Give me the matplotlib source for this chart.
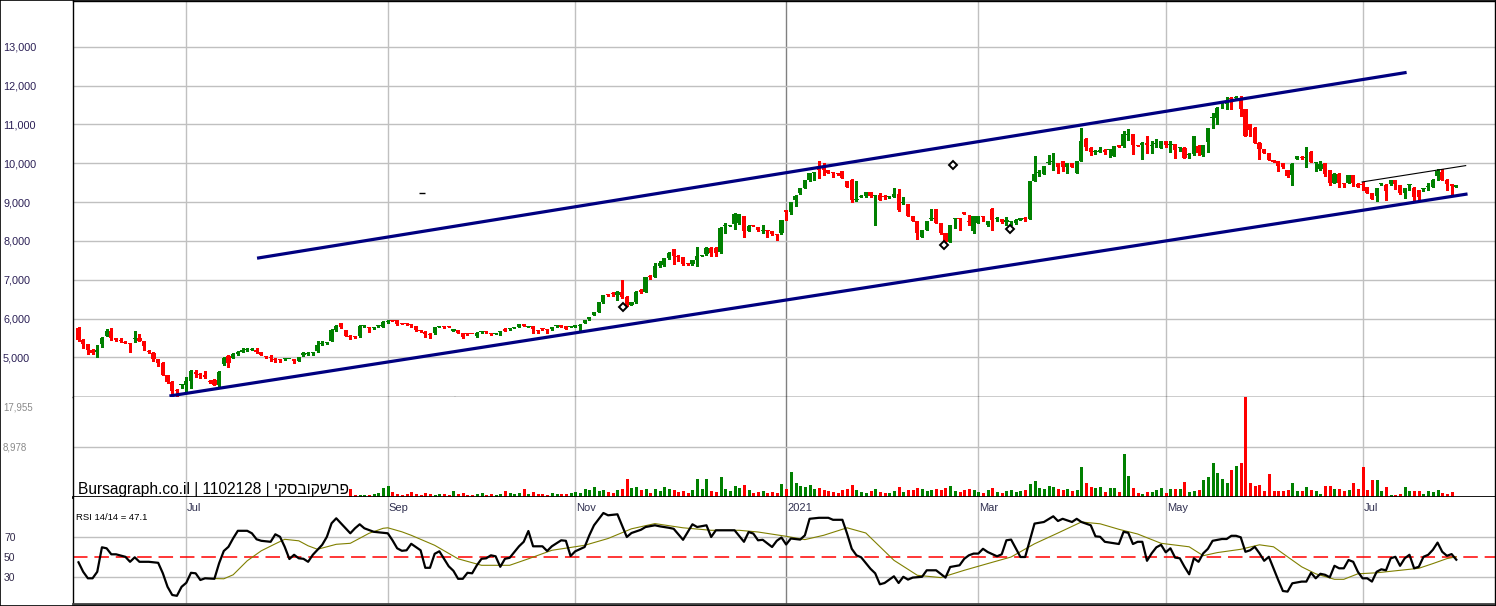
import numpy as np
import matplotlib
matplotlib.use("Agg")
import matplotlib.pyplot as plt
from matplotlib.transforms import blended_transform_factory

plt.rcParams['font.family'] = ['Liberation Sans', 'DejaVu Sans']

# daily candles, index 0 = first bar on the left (June 2020)
opens = [
    5750, 5450, 5340, 5200, 5130, 5340, 5550, 5690, 5490, 5450,
    5400, 5370, 5460, 5500, 5420, 5160, 5110, 4950, 4860, 4545,
    4370, 4140, 4290, 4300, 4390, 4630, 4580, 4545, 4390, 4415,
    4290, 4840, 5040, 4990, 5080, 5150, 5180, 5190, 5200, 5140,
    5020, 5000, 4960, 4945, 4950, 4955, 4950, 4910, 5050, 5090,
    5120, 5160, 5350, 5360, 5430, 5700, 5880, 5700, 5560, 5540,
    5550, 5795, 5770, 5755, 5795, 5790, 5905, 5955, 5960, 5865,
    5855, 5850, 5800, 5700, 5660, 5610, 5620, 5785, 5795, 5790,
    5690, 5700, 5620, 5605, 5605, 5560, 5655, 5655, 5630, 5595,
    5655, 5740, 5720, 5765, 5790, 5855, 5780, 5800, 5685, 5730,
    5705, 5720, 5795, 5830, 5800, 5775, 5790, 5795, 5890, 5980,
    6100, 6170, 6420, 6610, 6650, 6600, 6690, 6560, 6345, 6420,
    6740, 6690, 7080, 7073, 7350, 7374, 7547, 7785, 7600, 7572,
    7405, 7400, 7520, 7615, 7650, 7820, 7820, 7716, 8370, 8395,
    8440, 8460, 8634, 8260, 8395, 8345, 8265, 8275, 8250, 8155,
    8190, 8790, 8745, 9045, 9220, 9360, 9560, 9745, 9900, 9900,
    9820, 9755, 9735, 9790, 9540, 9580, 9040, 9140, 9150, 9260,
    9145, 9190, 9135, 9125, 9130, 9200, 8985, 8940, 8640, 8510,
    8100, 8275, 8565, 8815, 8460, 8190, 7975, 8565, 8575, 8745,
    8495, 8255, 8460, 8615, 8400, 8830, 8555, 8560, 8475, 8475,
    8450, 8540, 8575, 8575, 9535, 9745, 9715, 10010, 10025, 10005,
    10050, 9910, 10005, 9750, 10055, 10615, 10400, 10295, 10300, 10350,
    10335, 10190, 10440, 10435, 10735, 10740, 10465, 10460, 10530, 10455,
    10495, 10390, 10560, 10480, 10486, 10395, 10400, 10215, 10230, 10440,
    10200, 10545, 11155, 11170, 11525, 11525, 11665, 11675, 11640, 11390,
    11000, 10915, 10530, 10360, 10265, 10075, 10050, 10005, 9820, 9690,
    10120, 10155, 10145, 10300, 10010, 9840, 10005, 9820, 9490, 9730,
    9462, 9500, 9690, 9470, 9455, 9390, 9220, 9150, 9455, 9450,
    9460, 9560, 9430, 9220, 9445, 9370, 9300, 9345, 9385, 9390,
    9660, 9770, 9580, 9460, 9390,
]
highs = [
    5780, 5460, 5350, 5210, 5310, 5520, 5720, 5760, 5500, 5510,
    5410, 5380, 5680, 5600, 5430, 5200, 5130, 4960, 4870, 4550,
    4380, 4190, 4300, 4500, 4680, 4680, 4600, 4660, 4420, 4430,
    4640, 5020, 5060, 5100, 5160, 5230, 5230, 5230, 5230, 5150,
    5030, 5050, 4980, 4950, 4970, 4970, 4960, 5020, 5130, 5150,
    5150, 5410, 5420, 5400, 5720, 5830, 5890, 5710, 5570, 5550,
    5830, 5820, 5790, 5780, 5820, 5930, 5960, 5960, 5965, 5880,
    5860, 5855, 5810, 5705, 5670, 5620, 5790, 5800, 5800, 5800,
    5730, 5710, 5630, 5620, 5610, 5650, 5680, 5670, 5640, 5620,
    5680, 5750, 5750, 5790, 5870, 5860, 5800, 5810, 5690, 5740,
    5710, 5780, 5810, 5840, 5810, 5800, 5840, 5850, 5970, 6050,
    6180, 6430, 6610, 6620, 6680, 6720, 7000, 6570, 6430, 6700,
    6770, 7080, 7120, 7430, 7470, 7560, 7710, 7800, 7640, 7580,
    7420, 7510, 7840, 7640, 7830, 7830, 7830, 8350, 8470, 8420,
    8720, 8700, 8650, 8400, 8400, 8350, 8420, 8280, 8260, 8160,
    8540, 8800, 9000, 9170, 9370, 9570, 9760, 9770, 10050, 10000,
    9830, 9760, 9740, 9800, 9550, 9590, 9540, 9180, 9270, 9270,
    9160, 9220, 9180, 9150, 9350, 9340, 9130, 8950, 8650, 8520,
    8290, 8520, 8830, 8830, 8470, 8200, 8410, 8575, 8580, 8750,
    8660, 8640, 8640, 8620, 8520, 8840, 8620, 8570, 8620, 8490,
    8560, 8600, 8610, 9540, 10190, 9830, 9930, 10200, 10250, 10010,
    10060, 10010, 10010, 10060, 10900, 10640, 10410, 10340, 10420, 10360,
    10350, 10440, 10450, 10830, 10870, 10750, 10480, 10540, 10690, 10560,
    10630, 10570, 10570, 10580, 10490, 10410, 10410, 10270, 10690, 10480,
    10480, 10910, 11280, 11440, 11600, 11710, 11710, 11720, 11720, 11400,
    11010, 10920, 10540, 10370, 10270, 10080, 10060, 10010, 9830, 9995,
    10190, 10190, 10430, 10310, 10025, 10050, 10010, 9830, 9740, 9740,
    9470, 9700, 9700, 9480, 9520, 9400, 9230, 9360, 9480, 9460,
    9570, 9570, 9440, 9360, 9460, 9380, 9310, 9360, 9480, 9590,
    9860, 9860, 9590, 9470, 9440,
]
lows = [
    5420, 5250, 5080, 5080, 5010, 5270, 5540, 5440, 5420, 5390,
    5370, 5150, 5400, 5410, 5200, 5100, 4900, 4780, 4540, 4330,
    4030, 4010, 4200, 4140, 4200, 4500, 4460, 4460, 4330, 4290,
    4210, 4800, 4760, 4980, 5060, 5140, 5160, 5180, 5100, 5060,
    4990, 4900, 4880, 4870, 4940, 4950, 4860, 4900, 5040, 5060,
    5070, 5140, 5330, 5350, 5420, 5690, 5760, 5550, 5460, 5510,
    5530, 5780, 5650, 5740, 5780, 5780, 5880, 5940, 5830, 5850,
    5840, 5780, 5690, 5660, 5530, 5510, 5610, 5780, 5760, 5770,
    5680, 5630, 5490, 5580, 5590, 5530, 5640, 5640, 5570, 5590,
    5580, 5680, 5710, 5760, 5780, 5800, 5770, 5640, 5640, 5710,
    5640, 5710, 5790, 5780, 5730, 5770, 5780, 5690, 5880, 5970,
    6090, 6160, 6410, 6590, 6590, 6470, 6520, 6330, 6340, 6410,
    6670, 6680, 7020, 7060, 7330, 7360, 7540, 7400, 7490, 7390,
    7380, 7390, 7350, 7600, 7640, 7600, 7600, 7700, 8200, 8380,
    8300, 8440, 8090, 8250, 8380, 8260, 8200, 8100, 8160, 8010,
    8180, 8540, 8700, 8900, 9210, 9350, 9550, 9560, 9620, 9700,
    9740, 9650, 9700, 9610, 9380, 8990, 9030, 9130, 9140, 9140,
    8400, 9050, 9080, 9100, 9120, 8780, 8960, 8630, 8500, 8040,
    8090, 8270, 8530, 8450, 8180, 7900, 7970, 8330, 8280, 8690,
    8410, 8210, 8450, 8510, 8390, 8290, 8510, 8470, 8410, 8400,
    8440, 8530, 8500, 8570, 9530, 9660, 9710, 9980, 9830, 9750,
    9800, 9750, 9900, 9740, 10050, 10340, 10200, 10240, 10290, 10240,
    10170, 10180, 10420, 10430, 10610, 10240, 10440, 10100, 10260, 10270,
    10410, 10380, 10430, 10280, 10140, 10320, 10140, 10140, 10220, 10200,
    10190, 10280, 10900, 11020, 11420, 11390, 11390, 11620, 11210, 10700,
    10700, 10520, 10120, 10250, 10070, 10020, 9790, 9880, 9650, 9440,
    10110, 10120, 9890, 10020, 9790, 9830, 9660, 9440, 9480, 9400,
    9400, 9490, 9420, 9390, 9310, 9230, 9080, 9030, 9440, 9050,
    9450, 9330, 9210, 9100, 9300, 9060, 9020, 9290, 9300, 9380,
    9570, 9560, 9320, 9180, 9380,
]
closes = [
    5450, 5350, 5190, 5120, 5200, 5510, 5690, 5510, 5450, 5430,
    5380, 5350, 5480, 5420, 5290, 5140, 4960, 4860, 4545, 4370,
    4140, 4130, 4300, 4390, 4655, 4570, 4545, 4500, 4370, 4290,
    4620, 4980, 4850, 5080, 5130, 5190, 5190, 5200, 5150, 5060,
    5000, 4990, 4930, 4940, 4960, 4965, 4900, 5010, 5100, 5100,
    5130, 5310, 5360, 5370, 5700, 5800, 5780, 5555, 5530, 5520,
    5800, 5805, 5765, 5765, 5805, 5910, 5915, 5945, 5870, 5860,
    5850, 5830, 5700, 5670, 5590, 5570, 5780, 5795, 5785, 5785,
    5720, 5640, 5530, 5595, 5595, 5630, 5665, 5645, 5590, 5605,
    5665, 5690, 5740, 5775, 5857, 5810, 5790, 5720, 5675, 5720,
    5695, 5770, 5805, 5790, 5740, 5785, 5830, 5805, 5960, 6030,
    6160, 6420, 6600, 6600, 6640, 6690, 6560, 6345, 6420, 6690,
    6680, 7070, 7070, 7348, 7430, 7547, 7700, 7614, 7590, 7400,
    7395, 7500, 7620, 7625, 7820, 7680, 7690, 8343, 8380, 8405,
    8690, 8680, 8257, 8390, 8385, 8270, 8275, 8265, 8170, 8145,
    8530, 8750, 8990, 9157, 9360, 9560, 9750, 9755, 9820, 9820,
    9750, 9745, 9725, 9620, 9390, 9045, 9050, 9160, 9260, 9150,
    9155, 9060, 9125, 9135, 9200, 8790, 8995, 8640, 8510, 8190,
    8275, 8510, 8575, 8460, 8190, 7975, 8400, 8570, 8565, 8700,
    8485, 8630, 8630, 8605, 8510, 8550, 8565, 8475, 8540, 8485,
    8550, 8590, 8565, 9535, 9715, 9750, 9920, 10015, 10030, 9890,
    9910, 10005, 9910, 10055, 10570, 10420, 10300, 10305, 10350, 10300,
    10345, 10435, 10430, 10740, 10745, 10480, 10455, 10530, 10460, 10465,
    10505, 10560, 10480, 10490, 10350, 10405, 10140, 10225, 10690, 10270,
    10470, 10905, 11165, 11430, 11535, 11535, 11655, 11685, 11390, 10700,
    10865, 10530, 10375, 10265, 10075, 10030, 9920, 9890, 9660, 9990,
    10180, 10145, 10155, 10030, 10020, 9970, 9715, 9490, 9730, 9490,
    9452, 9690, 9490, 9400, 9445, 9235, 9090, 9350, 9465, 9280,
    9560, 9460, 9220, 9350, 9455, 9130, 9130, 9355, 9395, 9580,
    9790, 9580, 9460, 9410, 9430,
]

# volume, visible from bar 58 on (earlier bars sit under the caption)
vol_start = 58
volumes = [
    1400, 300, 300, 400, 300, 500, 700, 1600, 1900, 900,
    500, 400, 600, 900, 500, 400, 800, 600, 400, 500,
    600, 400, 1100, 500, 700, 400, 300, 500, 700, 400,
    500, 400, 600, 1000, 700, 500, 800, 1400, 600, 900,
    600, 500, 400, 700, 500, 600, 500, 700, 900, 700,
    1500, 1300, 1800, 1000, 1200, 900, 700, 1300, 1400, 3200,
    1600, 1800, 1200, 1500, 800, 1400, 1100, 1800, 1500, 1200,
    900, 1100, 700, 1200, 3200, 1400, 3300, 1000, 900, 3600,
    1400, 1000, 2000, 1600, 2200, 1200, 800, 900, 1000, 800,
    900, 700, 2400, 1500, 4500, 2500, 2000, 1800, 2200, 1400,
    1600, 1300, 1000, 900, 800, 1200, 1400, 2200, 1300, 900,
    800, 1000, 1500, 900, 700, 800, 1100, 1800, 900, 1300,
    1200, 1600, 1400, 1100, 1300, 1500, 1200, 1700, 2000, 1100,
    900, 1200, 1400, 1200, 900, 800, 1300, 1600, 900, 800,
    1000, 1200, 900, 1000, 1200, 2400, 2800, 1600, 1500, 2000,
    1800, 1400, 1200, 1500, 1000, 1300, 5400, 2600, 1800, 1600,
    1800, 900, 1620, 1620, 900, 7740, 3780, 1620, 720, 540,
    900, 900, 1260, 1620, 720, 1440, 1440, 1440, 2700, 900,
    1080, 1260, 3060, 3600, 6120, 4320, 3240, 2520, 4860, 5580,
    6120, 19000, 2520, 1980, 2160, 1080, 4140, 1080, 1080, 1080,
    1260, 2520, 1080, 1080, 1800, 1260, 1080, 540, 1980, 1980,
    1440, 1440, 1080, 1260, 2520, 1440, 5400, 1260, 3060, 3060,
    1080, 1800, 360, 360, 540, 1800, 1080, 1080, 1080, 540,
    1080, 900, 1260, 720, 540, 900,
]

# RSI 14 (bar index, value) and its signal line
rsi_idx = [
    0, 1, 2, 3, 4, 5, 6, 7, 8, 10, 11, 12, 13, 15, 17, 18, 19, 20, 21, 22,
    23, 24, 25, 26, 27, 29, 30, 31, 32, 33, 34, 36, 37, 38, 39, 41, 42, 43, 44, 45,
    46, 47, 48, 49, 50, 52, 53, 54, 55, 56, 58, 59, 60, 61, 63, 65, 66, 67, 68, 69,
    70, 71, 73, 74, 75, 76, 77, 78, 79, 80, 81, 82, 83, 84, 85, 86, 87, 88, 89, 90,
    91, 92, 94, 95, 96, 97, 99, 100, 101, 103, 104, 105, 106, 108, 109, 110, 112, 113, 115, 117,
    118, 120, 121, 123, 124, 126, 127, 129, 130, 131, 132, 134, 135, 136, 138, 139, 140, 142, 143, 144,
    145, 146, 148, 149, 150, 151, 152, 154, 155, 156, 158, 160, 161, 163, 164, 165, 166, 167, 169, 170,
    171, 172, 174, 175, 176, 177, 178, 180, 181, 183, 185, 186, 188, 189, 190, 191, 192, 193, 194, 196,
    197, 198, 199, 201, 202, 204, 206, 208, 209, 210, 212, 213, 214, 216, 217, 218, 219, 222, 223, 224,
    225, 226, 227, 228, 229, 230, 231, 232, 233, 234, 235, 236, 237, 238, 239, 240, 241, 242, 244, 245,
    246, 247, 248, 249, 250, 251, 252, 253, 254, 255, 256, 257, 258, 259, 261, 262, 263, 264, 265, 266,
    267, 268, 269, 270, 271, 272, 273, 274, 275, 276, 277, 278, 279, 280, 281, 282, 283, 284, 285, 286,
    287, 288, 289, 290, 291, 292, 293, 294,
]
rsi_vals = [
    44.5, 35, 28.5, 28.5, 35, 59.5, 58.5, 52.5, 52.5, 50, 45, 49.5, 45, 45, 44, 33.5, 20, 11.8, 11, 20,
    24, 34, 33.5, 26.8, 28.5, 28, 43.5, 55.8, 60, 68.5, 76, 76, 73.5, 67.5, 66, 65, 72.5, 70, 60, 47.8,
    52, 48.5, 48, 45, 52, 62, 70, 83.5, 88.5, 83.5, 73.5, 78.5, 82.5, 78.5, 75, 74, 73.5, 66.5, 58.5, 56,
    56.5, 63, 56.5, 39, 39, 53, 55.5, 48, 40.5, 36, 28, 28, 34, 33.5, 41.5, 48, 48.5, 51.5, 50.5, 40,
    48, 49, 60.5, 65, 75.8, 60.5, 60.5, 55.8, 60.5, 66.5, 66, 50.8, 55.5, 59.8, 71.5, 81.5, 93.8, 91.5, 92.5, 69.8,
    73.8, 77, 79.8, 81.5, 80.5, 79, 78, 67, 74.8, 82.5, 79.8, 81.5, 69.8, 76.5, 76.5, 76.5, 76.5, 65, 74.8, 73.2,
    66.5, 67, 59.8, 66, 69.3, 62.3, 68.3, 67.2, 71.5, 88, 89, 89, 87, 87, 73.2, 58, 51.5, 49.5, 38, 33.5,
    22.5, 23.8, 30.5, 23.8, 30, 27.2, 29.2, 30, 36.5, 36.5, 29.2, 39.8, 41.5, 48, 51.5, 53.2, 53.2, 58, 54.8, 50.5,
    52.5, 66.5, 67.2, 49.8, 49.8, 83.2, 84.8, 90.5, 85.8, 88, 84.8, 88, 84.8, 81.5, 70.5, 70, 65, 62.8, 75, 74,
    62.8, 65, 65, 46, 53.5, 59.5, 62, 54.5, 58.5, 49.2, 48.5, 40, 32.5, 48.5, 45, 53.5, 58, 66, 67.8, 67.8,
    71, 71, 69.5, 55, 56.5, 60, 53.5, 46, 50, 38.5, 26.8, 15.8, 15.2, 23.5, 25.2, 25.2, 34, 28.5, 33, 32,
    29.5, 41, 38.5, 38.5, 46.8, 45, 35, 28.5, 28.5, 25.2, 35, 37.5, 36.5, 48.5, 50, 41, 48.5, 52, 38.5, 40,
    50, 52, 57, 64.2, 55, 51, 52.7, 47.1,
]
sig_idx = [
    27, 31, 33, 36, 39, 42, 44, 47, 49, 51, 55, 58, 62, 65, 66, 69, 71, 76, 81, 86,
    92, 96, 101, 108, 113, 118, 123, 129, 135, 141, 145, 151, 155, 159, 164, 168, 174, 179, 184, 189,
    194, 199, 204, 209, 214, 218, 222, 226, 231, 237, 240, 243, 248, 252, 255, 258, 261, 264, 268, 270,
    273, 277, 282, 286, 289, 292, 294,
]
sig_vals = [
    28.5, 28, 32, 46, 56, 63, 67.5, 66, 61, 57.5, 62.5, 63.5, 73.5, 78.5, 79, 75, 71.5, 61.5, 48, 41.5,
    41.5, 48, 56.5, 61.5, 68.3, 78, 83.2, 79, 76.5, 76.5, 74.8, 70.5, 67.2, 71.5, 79, 73.8, 46.5, 31.5, 29.2, 36.5,
    43.2, 49.8, 63, 73.8, 84.8, 83, 77.5, 72.8, 63.5, 60, 51.1, 54.2, 57.5, 62, 60, 50, 40, 33, 27.5, 27.5,
    33, 34, 36.5, 38.5, 43.2, 48.2, 50,
]

# first trading day of each labelled month
month_idx = [23, 66, 106, 151, 192, 232, 274]
month_labels = ["Jul", "Sep", "Nov", "2021", "Mar", "May", "Jul"]

price_ticks = [5000, 6000, 7000, 8000, 9000, 10000, 11000, 12000, 13000]

# drawn trend lines: (bar index pair, price pair)
lower_channel = ([19.4, 296.4], [4005, 9208])
upper_channel = ([38.1, 283.4], [7554, 12338])
short_line = ([273.9, 296.0], [9517, 9938])

signal_idx = [116.2, 80.3, 186.6, 184.7, 198.8]
signal_price = [6300, 3850, 9946, 7890, 8300]

W, H = 1496, 606
fig = plt.figure(figsize=(W / 100, H / 100), dpi=100)


def panel(top, bottom):
    # rows in reference pixels, measured from the top
    return fig.add_axes([73 / W, 1 - bottom / H, (1494.5 - 73) / W, (bottom - top) / H])


ax_p = panel(0.5, 396.5)
ax_v = panel(396.5, 497)
ax_r = panel(497, 604)

o = np.array(opens)
hi = np.array(highs)
lo = np.array(lows)
c = np.array(closes)
n = len(c)
x = np.arange(n)
up = c >= o
col = np.where(up, '#008000', '#ff0000')

dx = (1456.3 - 78.5) / (n - 1)
xlim = (-(78.5 - 73) / dx, (1494.5 - 78.5) / dx)

grid_c = '#c0c0c0'
for ax in (ax_p, ax_v, ax_r):
    ax.set_xlim(*xlim)
    ax.set_xticks(month_idx)
    ax.set_xticklabels([])
    ax.tick_params(length=0)
    ax.grid(axis='x', color=grid_c, lw=1)
    ax.get_xgridlines()[3].set_color('#808080')
    ax.set_axisbelow(True)
    for s in ax.spines.values():
        s.set_color('black')
        s.set_linewidth(1)

# price panel
ax_p.vlines(x, lo, hi, colors=col, lw=1, antialiased=False, zorder=2)
body_lo = np.minimum(o, c)
body_h = np.maximum(np.abs(c - o), 26)
ax_p.bar(x, body_h, bottom=body_lo, width=0.9, color=col, lw=0, antialiased=False, zorder=3)

ax_p.plot(*lower_channel, color='#000080', lw=2.3, solid_capstyle='butt', zorder=4)
ax_p.plot(*upper_channel, color='#000080', lw=2.3, solid_capstyle='butt', zorder=4)
ax_p.plot(*short_line, color='black', lw=0.8, zorder=4)
ax_p.plot(signal_idx, signal_price, ls='none', marker='D', ms=4, mfc='white',
          mec='black', mew=1.4, clip_on=False, zorder=6)
ax_p.plot([73.3], [9225], ls='none', marker='_', ms=5, color='black', mew=1, zorder=6)

ax_p.set_ylim(3992, 14190)
ax_p.set_yticks(price_ticks)
ax_p.set_yticklabels([f"{v:,}" for v in price_ticks], ha='left', color='#2a1f55', fontsize=7.8)
ax_p.tick_params(axis='y', pad=70 * 0.72)
ax_p.grid(axis='y', color=grid_c, lw=1)

# volume panel
vx = np.arange(vol_start, vol_start + len(volumes))
ax_v.vlines(vx, 0, volumes, colors=col[vx], lw=1, antialiased=False)
ax_v.set_ylim(0, 18045)
ax_v.set_yticks([8978])
ax_v.set_yticklabels(["8,978"], ha='left', color='#8a8a8a', fontsize=7)
ax_v.tick_params(axis='y', pad=70 * 0.72)
ax_v.grid(axis='y', color=grid_c, lw=1)
ax_v.spines['top'].set_visible(False)
ax_v.spines['bottom'].set_linewidth(2)
fig.text(3 / W, 1 - 408 / H, "17,955", ha='left', va='center', color='#8a8a8a', fontsize=7)
ax_v.text((78 - 73) / 1421.5, 3 / 100.5,
          "Bursagraph.co.il | 1102128 | " + "פרשקובסקי"[::-1],
          transform=ax_v.transAxes, ha='left', va='baseline', fontsize=11.2, color='black')

# RSI panel
ax_r.plot(sig_idx, sig_vals, color='#808000', lw=0.8, zorder=3)
ax_r.plot(rsi_idx, rsi_vals, color='black', lw=1.6, zorder=4)
ax_r.axhline(50, color='#ff0000', lw=1.1, dashes=(9.5, 4.5), zorder=2)
ax_r.set_ylim(2.8, 109.8)
ax_r.set_yticks([30, 50, 70])
ax_r.set_yticklabels(["30", "50", "70"], ha='left', color='#302848', fontsize=7.5)
ax_r.tick_params(axis='y', pad=69 * 0.72)
ax_r.grid(axis='y', color=grid_c, lw=1)
ax_r.get_ygridlines()[1].set_visible(False)
ax_r.spines['top'].set_visible(False)
ax_r.spines['bottom'].set_linewidth(2)
ax_r.spines['bottom'].set_color('#404040')

lab_tr = blended_transform_factory(ax_r.transData, ax_r.transAxes)
for pos, lab in zip(month_idx, month_labels):
    ax_r.text(pos + 0.2, 0.897, lab, transform=lab_tr, ha='left', va='center',
              fontsize=8, color='#303050')
ax_r.text(3 / 1421.5, 0.813, f"RSI 14/14 = {rsi_vals[-1]}", transform=ax_r.transAxes,
          ha='left', va='center', fontsize=6.8, color='black')

fig.add_artist(plt.Rectangle((0, 0), 1, 1, transform=fig.transFigure, fill=False,
                             ec='black', lw=1.2))

fig.savefig("out.png", dpi=100)
